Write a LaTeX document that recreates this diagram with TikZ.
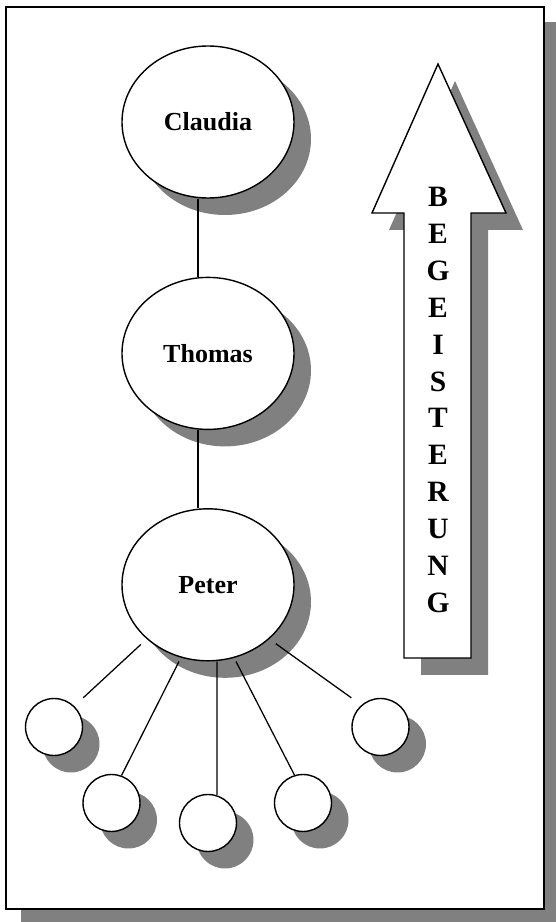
\documentclass[tikz,border=0pt]{standalone}
\usepackage{fontspec}
\setmainfont{Liberation Serif}
\usepackage{tikz}
\usetikzlibrary{positioning,shapes.geometric,shadows}

\begin{document}
\begin{tikzpicture}[
	person/.style={ellipse, draw, line width=1pt, fill=white, inner sep=0pt,
		minimum width=4.3cm, minimum height=3.8cm,
		font=\fontsize{18.5}{22}\selectfont\bfseries, grayshadow=\shadowShift},
	member/.style={circle, draw, line width=1pt, fill=white, inner sep=0pt,
		minimum size=1.425cm, grayshadow=\shadowShift},
	grayshadow/.style={drop shadow={shadow xshift=#1cm, shadow yshift=-#1cm, fill=gray, opacity=1}},
	link/.style={line width=0.9pt}
]
	\newcommand{\shadowShift}{0.425}
	\newcommand{\frameShift}{0.375}
	\newcommand{\headY}{17.725}
	\newcommand{\footY}{6.6}

	\useasboundingbox (0,0) rectangle (13.875,23.05);

	% draw frame
	\draw[line width=1.4pt, fill=white, grayshadow=\frameShift] (0.15,0.325) rectangle (13.6,22.875);

	% persons
	\node[person] (claudia) at (5.2,20.0) {Claudia};
	\node[person, below=1.95cm of claudia] (thomas) {Thomas};
	\node[person, below=1.95cm of thomas] (peter) {Peter};

	% members below peter
	\node[member] (m1) at (1.35,4.875) {};
	\node[member] (m2) at (2.7875,2.975) {};
	\node[member] (m3) at (5.2,2.475) {};
	\node[member] (m4) at (7.575,2.975) {};
	\node[member] (m5) at (9.5125,4.875) {};

	% links
	\draw[link] ([xshift=-0.25cm]claudia.south) -- ([xshift=-0.25cm]thomas.north);
	\draw[link] ([xshift=-0.25cm]thomas.south) -- ([xshift=-0.25cm]peter.north);
	\draw[link, shorten <=0.2cm] (peter.south west) -- (m1.north -| m1.east);
	\draw[link] ([xshift=-0.725cm]peter.south) -- (m2.70);
	\draw[link] ([xshift=0.225cm]peter.south) -- (m3.72);
	\draw[link] ([xshift=0.7cm]peter.south) -- (m4.107);
	\draw[link, shorten <=0.2cm] (peter.south east) -- (m5.north -| m5.west);

	% arrow
	\coordinate (tip) at (10.95,21.45);
	\filldraw[line width=1pt, fill=white, grayshadow=\shadowShift] (tip) -- (12.65,\headY) -- (11.775,\headY) -- (11.775,\footY)
		-- (10.1,\footY) -- (10.1,\headY) -- (9.3,\headY) -- cycle;
	\node[align=center, inner sep=0pt, font=\fontsize{21}{26.2}\selectfont\bfseries] (rise) at (10.95,13.05)
		{B\\E\\G\\E\\I\\S\\T\\E\\R\\U\\N\\G};
\end{tikzpicture}
\end{document}
